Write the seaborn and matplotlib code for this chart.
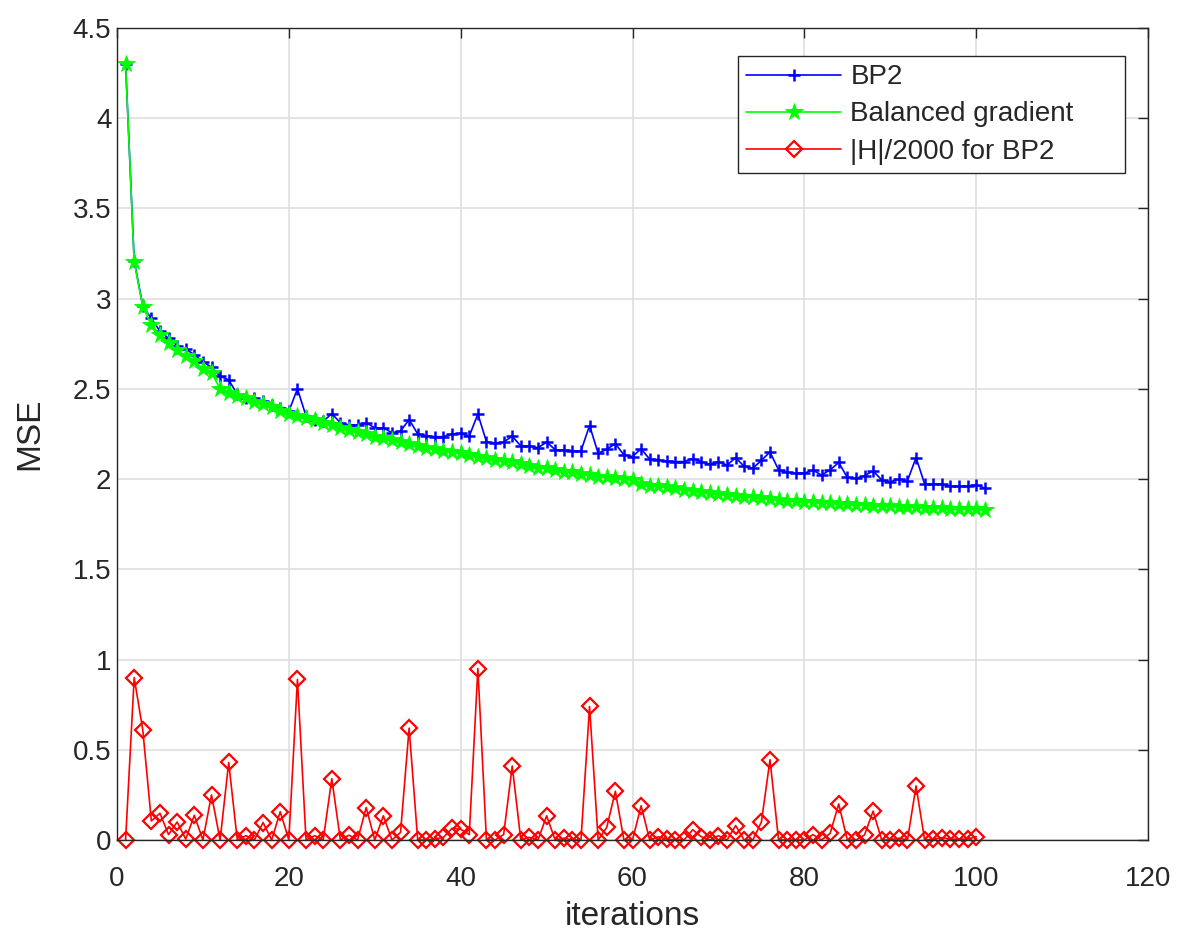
import numpy as np
import pandas as pd
import seaborn as sns
import matplotlib
matplotlib.use("Agg")
import matplotlib.pyplot as plt

# values
bp2 = [4.30, 3.21, 2.96, 2.89, 2.82, 2.78, 2.74, 2.72, 2.69, 2.65,
       2.62, 2.57, 2.55, 2.47, 2.45, 2.45, 2.435, 2.41, 2.395, 2.376,
       2.50, 2.35, 2.33, 2.32, 2.363, 2.312, 2.30, 2.30, 2.312, 2.284,
       2.284, 2.257, 2.266, 2.33, 2.25, 2.24, 2.235, 2.235, 2.25, 2.253,
       2.238, 2.361, 2.207, 2.198, 2.205, 2.238, 2.183, 2.183, 2.174, 2.205,
       2.163, 2.161, 2.156, 2.156, 2.297, 2.143, 2.165, 2.196, 2.134, 2.125,
       2.168, 2.11, 2.106, 2.10, 2.097, 2.097, 2.114, 2.097, 2.082, 2.097,
       2.077, 2.119, 2.07, 2.06, 2.104, 2.15, 2.051, 2.037, 2.033, 2.033,
       2.05, 2.022, 2.051, 2.092, 2.009, 2.004, 2.018, 2.046, 1.995, 1.985,
       2.0, 1.991, 2.119, 1.973, 1.973, 1.973, 1.96, 1.96, 1.96, 1.969,
       1.95]
balanced = [4.30, 3.205, 2.955, 2.853, 2.80, 2.755, 2.715, 2.68, 2.655, 2.61,
            2.59, 2.50, 2.477, 2.459, 2.45, 2.43, 2.417, 2.40, 2.38, 2.36,
            2.35, 2.336, 2.325, 2.31, 2.30, 2.284, 2.27, 2.26, 2.248, 2.235,
            2.226, 2.215, 2.204, 2.193, 2.185, 2.174, 2.165, 2.156, 2.152, 2.143,
            2.134, 2.125, 2.115, 2.106, 2.10, 2.092, 2.082, 2.073, 2.064, 2.059,
            2.05, 2.042, 2.037, 2.027, 2.022, 2.013, 2.009, 2.004, 1.998, 1.994,
            1.973, 1.963, 1.96, 1.954, 1.949, 1.941, 1.936, 1.93, 1.923, 1.918,
            1.912, 1.908, 1.903, 1.899, 1.894, 1.89, 1.885, 1.881, 1.879, 1.875,
            1.872, 1.868, 1.866, 1.863, 1.861, 1.857, 1.855, 1.853, 1.852, 1.85,
            1.848, 1.846, 1.844, 1.842, 1.841, 1.839, 1.837, 1.837, 1.835, 1.833,
            1.831]
h_bp2 = [0.0, 0.90, 0.61, 0.106, 0.148, 0.03, 0.10, 0.005, 0.137, 0.0,
         0.25, 0.0, 0.43, 0.0, 0.024, 0.0, 0.097, 0.0, 0.157, 0.0,
         0.89, 0.0, 0.024, 0.0, 0.34, 0.0, 0.027, 0.0, 0.18, 0.0,
         0.134, 0.0, 0.042, 0.62, 0.0, 0.0, 0.005, 0.015, 0.065, 0.06,
         0.03, 0.95, 0.0, 0.0, 0.03, 0.41, 0.0, 0.015, 0.0, 0.134,
         0.0, 0.01, 0.0, 0.0, 0.74, 0.0, 0.07, 0.27, 0.0, 0.0,
         0.19, 0.0, 0.018, 0.005, 0.0, 0.0, 0.057, 0.018, 0.0, 0.024,
         0.0, 0.08, 0.0, 0.0, 0.10, 0.445, 0.0, 0.0, 0.0, 0.0,
         0.03, 0.0, 0.037, 0.20, 0.0, 0.0, 0.028, 0.16, 0.0, 0.0,
         0.01, 0.0, 0.30, 0.0, 0.005, 0.013, 0.005, 0.005, 0.005, 0.018]

it_mse = np.arange(1, len(bp2) + 1)
it_h = np.arange(1, len(h_bp2) + 1)

df = pd.DataFrame({"iterations": it_mse, "BP2": bp2, "Balanced gradient": balanced})
dh = pd.DataFrame({"iterations": it_h, "H": h_bp2})

sns.set_style("white")
plt.rcParams['font.family'] = ['Liberation Sans', 'DejaVu Sans']

fig = plt.figure(figsize=(11.77, 9.32), dpi=100)
ax = fig.add_axes([0.0994, 0.0987, 0.876, 0.8713])

blue, green, red = (0, 0, 1), (0, 1, 0), (1, 0, 0)
sns.lineplot(data=df, x="iterations", y="BP2", ax=ax, color=blue, lw=1.2,
             marker="+", markersize=9, markeredgewidth=1.8, markeredgecolor=blue,
             label="BP2")
sns.lineplot(data=df, x="iterations", y="Balanced gradient", ax=ax, color=green, lw=1.2,
             marker="*", markersize=13, markeredgewidth=0.6, markeredgecolor=green,
             markerfacecolor=green, label="Balanced gradient")
sns.lineplot(data=dh, x="iterations", y="H", ax=ax, color=red, lw=1.2,
             marker="D", markersize=8.5, markerfacecolor="none", markeredgecolor=red,
             markeredgewidth=1.6, label="|H|/2000 for BP2")
for ln in ax.lines:
    ln.set_clip_on(False)

ax.set_xlim(0, 120)
ax.set_ylim(0, 4.5)
ax.set_xticks(np.arange(0, 121, 20))
ax.set_yticks(np.arange(0, 4.51, 0.5))
ax.set_yticklabels(["0", "0.5", "1", "1.5", "2", "2.5", "3", "3.5", "4", "4.5"])
ax.grid(True, color="#dfdfdf", lw=1.2)
ax.set_axisbelow(True)
for s in ax.spines.values():
    s.set_color("#262626")
    s.set_linewidth(1.0)
ax.tick_params(direction="in", length=7, width=1.0, colors="#262626", labelsize=20,
               top=True, right=True)
ax.tick_params(axis="x", pad=19)
ax.tick_params(axis="y", pad=4)
ax.set_xlabel("iterations", fontsize=24, color="#262626", labelpad=6)
ax.set_ylabel("MSE", fontsize=24, color="#262626", labelpad=20)

# legend box stretched to the width seen in the reference
leg = ax.legend(loc="upper left", bbox_to_anchor=(0.6023, 0.80, 0.3754, 0.1655),
                mode="expand", fontsize=20,
                frameon=True, fancybox=False, edgecolor="#262626", framealpha=1,
                handlelength=3.4, handletextpad=0.35, borderpad=0.3, labelspacing=0.4,
                borderaxespad=0)
leg.get_frame().set_linewidth(1.0)

fig.savefig("out.png", dpi=100)
